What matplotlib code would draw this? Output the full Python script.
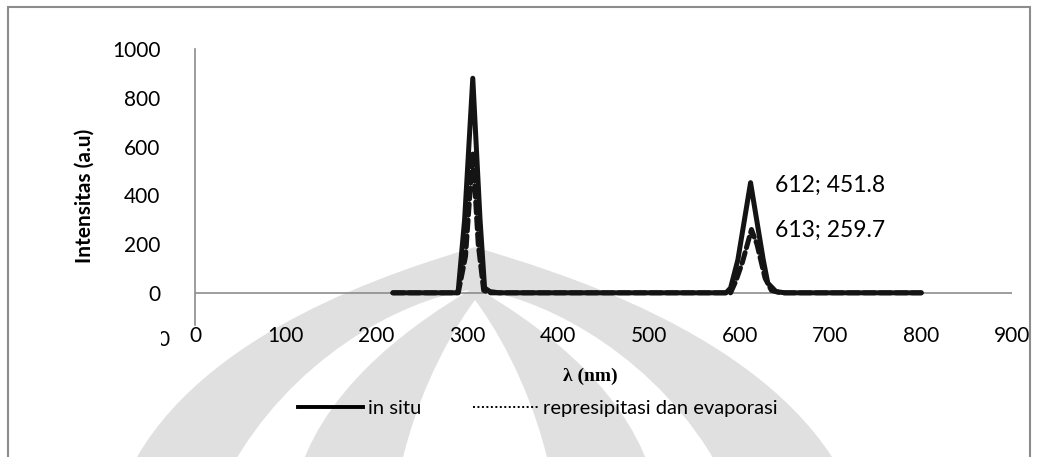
import matplotlib.pyplot as plt
from matplotlib.lines import Line2D
from matplotlib.patches import Rectangle, PathPatch
from matplotlib.path import Path
from matplotlib.transforms import Bbox

plt.rcParams['font.family'] = ['Lato', 'DejaVu Sans']

# in situ spectrum (nm, a.u.)
insitu_x = [218, 250, 280, 288, 290, 297, 306, 314, 319, 325, 335, 380, 450, 500, 550,
            585, 590, 598, 612, 626, 631, 640, 650, 700, 750, 800]
insitu_y = [0, 0, 0, 0, 10, 300, 880, 300, 20, 5, 0, 0, 0, 0, 0,
            0, 20, 135, 451.8, 135, 40, 5, 0, 0, 0, 0]

# represipitasi dan evaporasi spectrum
rep_x = [218, 250, 280, 290, 298, 306, 312, 318, 325, 380, 450, 500, 550,
         590, 596, 603, 613, 619, 628, 635, 645, 700, 750, 800]
rep_y = [0, 0, 0, 0, 150, 575, 200, 10, 0, 0, 0, 0, 0,
         0, 50, 125, 259.7, 200, 60, 10, 0, 0, 0, 0]

x_ticks = [0, 100, 200, 300, 400, 500, 600, 700, 800, 900]
y_ticks = [0, 200, 400, 600, 800, 1000]

peak_labels = [(612, 451.8), (613, 259.7)]

W, H = 1037, 457
fig = plt.figure(figsize=(W / 100, H / 100), dpi=100)
fig.patch.set_facecolor('white')


def px(pts):
    # figure pixels (top-left origin) -> figure fraction
    return [(x / W, 1 - y / H) for x, y in pts]


def blob(pts, color):
    codes = [Path.MOVETO] + [Path.CURVE4] * (len(pts) - 2) + [Path.CLOSEPOLY]
    p = PathPatch(Path(px(pts), codes), transform=fig.transFigure,
                  facecolor=color, edgecolor='none', zorder=0)
    fig.add_artist(p)


# faint watermark behind the chart
wm = '#e0e0e0'
blob([(130, 470), (200, 330), (400, 270), (475, 247), (550, 270), (760, 330), (840, 470),
      (130, 470)], wm)
blob([(230, 470), (290, 360), (400, 300), (470, 290), (420, 320), (330, 380), (300, 470),
      (230, 470)], 'white')
blob([(720, 470), (660, 360), (550, 300), (480, 290), (530, 320), (620, 380), (650, 470),
      (720, 470)], 'white')
blob([(400, 470), (420, 380), (460, 320), (475, 300), (490, 320), (530, 380), (550, 470),
      (400, 470)], 'white')

# outer chart border
fig.add_artist(Rectangle((8 / W, -0.05), 1022 / W, 1.05 - 7 / H, transform=fig.transFigure,
                         fill=False, edgecolor='#8c8c8c', linewidth=1.5, zorder=1))

ax = fig.add_axes([195 / W, 1 - 325 / H, 817 / W, 276 / H])
ax.set_facecolor('none')

line_col = '#141414'
ax.plot(insitu_x, insitu_y, color=line_col, linewidth=3.6, solid_joinstyle='round',
        solid_capstyle='round', zorder=3)
ax.plot(rep_x, rep_y, color=line_col, linewidth=3.6, linestyle=(0, (2.2, 1.0)),
        dash_capstyle='round', zorder=4)

ax.axhline(0, color='#8c8c8c', linewidth=1.2, zorder=1)

ax.set_xlim(0, 900)
ax.set_ylim(-132, 1000)
ax.set_xticks(x_ticks)
ax.set_yticks(y_ticks)
ax.tick_params(axis='both', length=0, labelsize=15, colors='black')
ax.tick_params(axis='y', pad=25)
ax.tick_params(axis='x', pad=1)

for s in ['top', 'right', 'bottom']:
    ax.spines[s].set_visible(False)
ax.spines['left'].set_color('#8c8c8c')
ax.spines['left'].set_linewidth(1.2)

# data labels for the second peak
ax.annotate('%d; %.1f' % peak_labels[0], xy=peak_labels[0],
            xytext=(775, H - 185), textcoords='figure pixels', fontsize=16.5,
            va='center', ha='left', annotation_clip=False)
ax.annotate('%d; %.1f' % peak_labels[1], xy=peak_labels[1],
            xytext=(775, H - 230), textcoords='figure pixels', fontsize=16.5,
            va='center', ha='left', annotation_clip=False)

# partially hidden tick label left of the axis
t = fig.text(170 / W, 1 - 340 / H, '0', ha='right', va='center', fontsize=15)
t.set_clip_box(Bbox.from_extents(161, 0, 300, H))
t.set_clip_on(True)

fig.text(85 / W, 1 - 196 / H, 'Intensitas (a.u)', rotation=90, ha='center', va='center',
         fontsize=15, fontweight='bold')
fig.text(590 / W, 1 - 376 / H, 'λ (nm)', ha='center', va='center', fontsize=14,
         fontweight='bold', family=['Liberation Serif', 'DejaVu Serif'])

handles = [Line2D([], [], color='black', linewidth=2.8),
           Line2D([], [], color='black', linewidth=1.4, linestyle=(0, (1, 1.3)))]
fig.legend(handles, ['in situ', 'represipitasi dan evaporasi'], loc='center',
           bbox_to_anchor=(538 / W, 1 - 408 / H), ncol=2, frameon=False,
           fontsize=14.5, handlelength=3.2, handletextpad=0.25, columnspacing=2.6)

fig.savefig('out.png', dpi=100, facecolor='white')
